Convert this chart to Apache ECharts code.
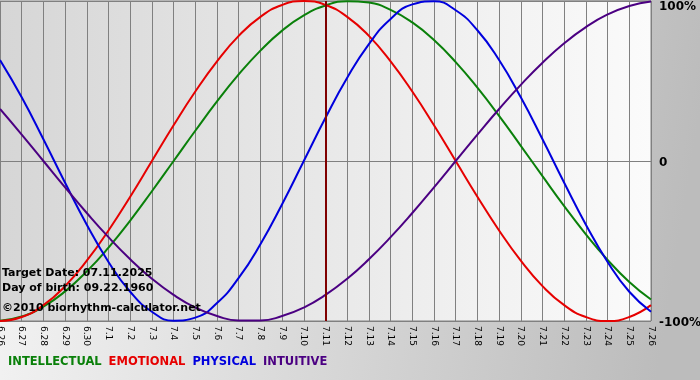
<!DOCTYPE html>
<html>
<head>
<meta charset="utf-8">
<script src="https://cdn.jsdelivr.net/npm/echarts@6/dist/echarts.min.js"></script>
<style>
html,body{margin:0;padding:0;}
#chart{width:700px;height:380px;}
</style>
</head>
<body>
<div id="chart"></div>
<script>
var dates = ['6.26','6.27','6.28','6.29','6.30','7.1','7.2','7.3','7.4','7.5','7.6','7.7','7.8','7.9','7.10','7.11','7.12','7.13','7.14','7.15','7.16','7.17','7.18','7.19','7.20','7.21','7.22','7.23','7.24','7.25','7.26'];
var intellectual = [-99.9,-97.2,-91.0,-81.5,-69.0,-54.1,-37.2,-18.9,0,18.9,37.2,54.1,69.0,81.5,91.0,97.2,99.9,99.0,94.5,86.6,75.6,61.8,45.8,28.2,9.5,-9.5,-28.2,-45.8,-61.8,-75.6,-86.6];
var emotional = [-100,-97.5,-90.1,-78.2,-62.3,-43.4,-22.3,0,22.3,43.4,62.3,78.2,90.1,97.5,100,97.5,90.1,78.2,62.3,43.4,22.3,0,-22.3,-43.4,-62.3,-78.2,-90.1,-97.5,-100,-97.5,-90.1];
var physical = [63.1,39.8,13.6,-13.6,-39.8,-63.1,-81.7,-94.2,-99.8,-97.9,-88.8,-73.1,-52.0,-27.0,0,27.0,52.0,73.1,88.8,97.9,99.8,94.2,81.7,63.1,39.8,13.6,-13.6,-39.8,-63.1,-81.7,-94.2];
var intuitive = [32.5,16.5,0,-16.5,-32.5,-47.6,-61.4,-73.6,-83.7,-91.6,-96.9,-99.7,-99.7,-96.9,-91.6,-83.7,-73.6,-61.4,-47.6,-32.5,-16.5,0,16.5,32.5,47.6,61.4,73.6,83.7,91.6,96.9,99.7];
var yTicks = [-100, 0, 100];
var targetDate = '7.11';
var infoLines = ['Target Date: 07.11.2025', 'Day of birth: 09.22.1960', '\u00a92010 biorhythm-calculator.net'];
var seriesNames = ['INTELLECTUAL','EMOTIONAL','PHYSICAL','INTUITIVE'];
var seriesColors = ['#0a800a','#e60000','#0000dd','#4b0082'];

var chart = echarts.init(document.getElementById('chart'), null, {renderer:'canvas'});
var seriesData = [intellectual, emotional, physical, intuitive];
var series = seriesNames.map(function(n, k){
  return {
    name: n, type: 'line', data: seriesData[k], smooth: 0.5, showSymbol: false,
    symbol: 'none', lineStyle: {color: seriesColors[k], width: 2}, itemStyle:{color: seriesColors[k]},
    animation: false, z: 3 + k
  };
});
series.push({
  name: 'marker', type: 'line', data: [], animation:false, z: 20,
  markLine: {silent:true, z: 20, symbol:['none','none'], label:{show:false},
    lineStyle:{color:'#800000', width:2, type:'solid'}, data:[{xAxis: targetDate}]}
});
chart.setOption({
  backgroundColor: {type:'linear', x:0, y:0, x2:1, y2:0.3, colorStops:[{offset:0,color:'#f6f6f6'},{offset:1,color:'#bcbcbc'}]},
  animation: false,
  grid: {left:0, right:49, top:1, bottom:59, show:true, borderColor:'#808080', borderWidth:1,
    containLabel:false, outerBoundsMode:'none',
    backgroundColor:{type:'linear', x:0, y:0, x2:1, y2:0, colorStops:[{offset:0,color:'#d6d6d6'},{offset:1,color:'#fbfbfb'}]}},
  legend: {
    left: 3, top: 356, padding: 0, icon: 'none', itemWidth: 0, itemHeight: 0, itemGap: 2, selectedMode:false,
    textStyle: {fontFamily:'DejaVu Sans', fontWeight:'bold', fontSize:11.5},
    data: seriesNames.map(function(n,k){ return {name:n, textStyle:{color:seriesColors[k]}}; })
  },
  xAxis: {
    type:'category', data: dates, boundaryGap:false,
    axisLine:{show:true, lineStyle:{color:'#808080'}},
    axisTick:{show:true, length:4, lineStyle:{color:'#808080'}, alignWithLabel:true},
    splitLine:{show:true, lineStyle:{color:'#808080', width:1}},
    axisLabel:{rotate:-90, interval:0, margin:5, color:'#000', fontFamily:'DejaVu Sans', fontSize:9}
  },
  yAxis: {
    type:'value', min:-100, max:100, interval:100, position:'right',
    axisLine:{show:false}, axisTick:{show:false},
    splitLine:{show:true, lineStyle:{color:'#808080', width:1}},
    axisLabel:{margin:8, color:'#000', fontFamily:'DejaVu Sans', fontWeight:'bold', fontSize:12,
      verticalAlignMaxLabel:'top',
      formatter:function(v){ return v === 0 ? '{z|0}' : (v < 0 ? '{m|' + v + '%}' : v + '%'); },
      rich:{
        z:{fontFamily:'DejaVu Sans', fontWeight:'bold', fontSize:12, color:'#000', padding:[4,0,0,0]},
        m:{fontFamily:'DejaVu Sans', fontWeight:'bold', fontSize:12, color:'#000', padding:[3,0,0,0]}
      }}
  },
  graphic: infoLines.map(function(t, k){
    return {type:'text', left:2, top: [268, 283, 303][k], z: 100,
      style:{text:t, fill:'#000', font:'bold 11px "DejaVu Sans"'}};
  }),
  series: series
});
</script>
</body>
</html>
